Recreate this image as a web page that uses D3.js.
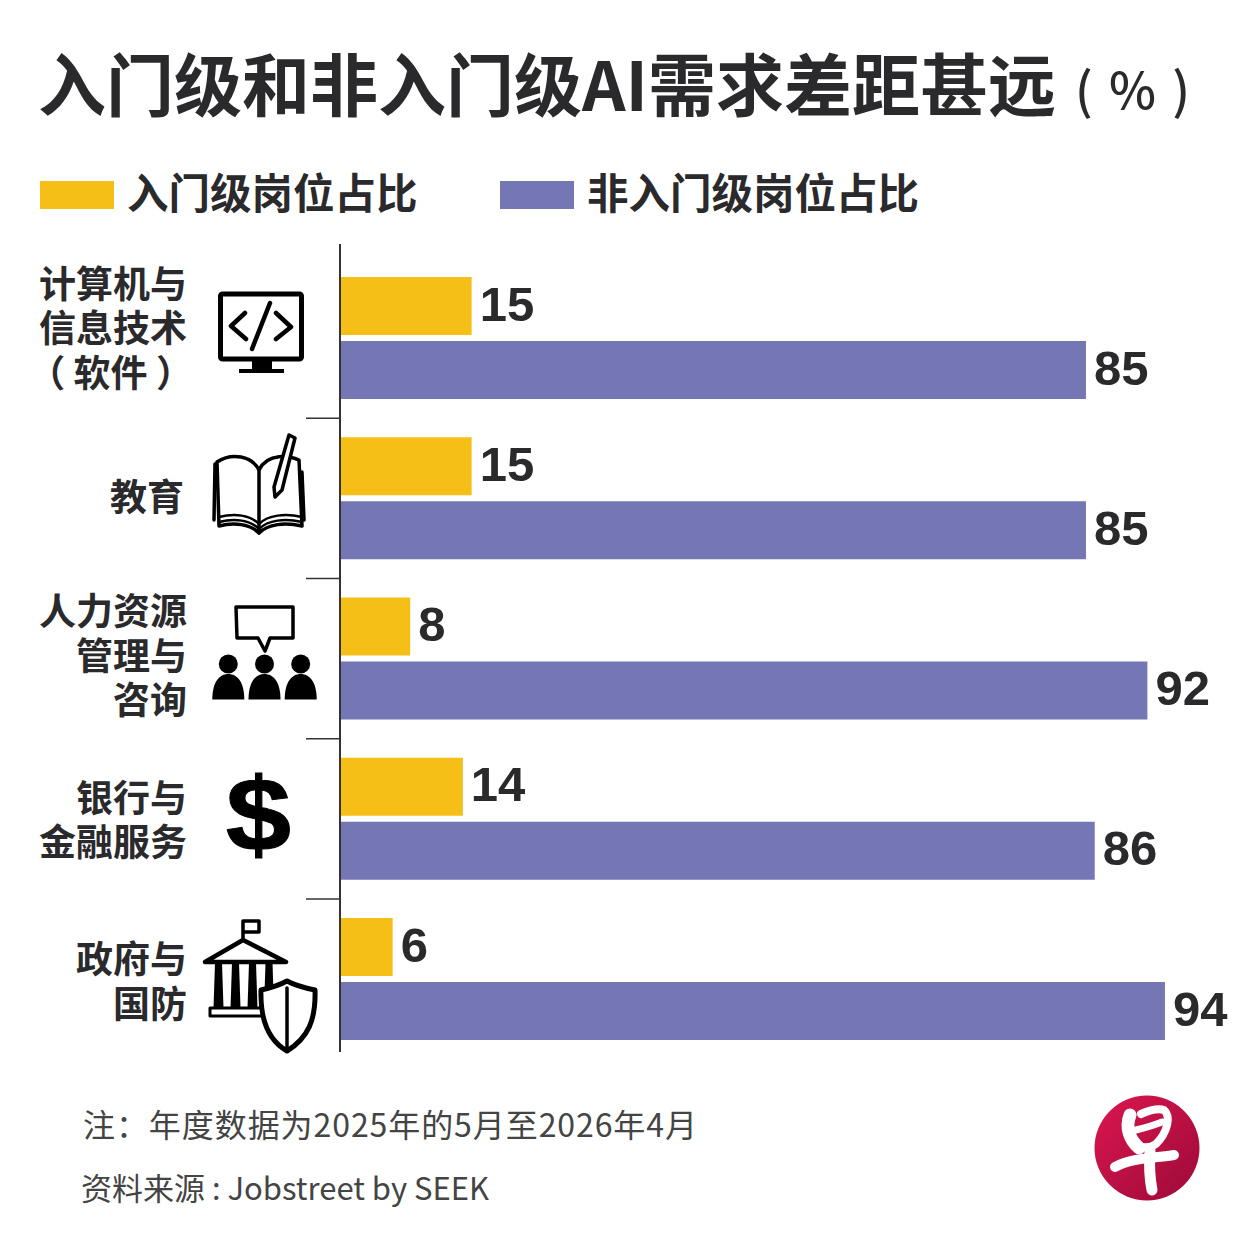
<!DOCTYPE html>
<html lang="zh">
<head>
<meta charset="utf-8">
<script src="https://cdn.jsdelivr.net/npm/d3@7/dist/d3.min.js"></script>
<style>
html,body{margin:0;padding:0;background:#fff}
svg{display:block}
text{font-family:"Noto Sans CJK SC","Noto Sans",sans-serif}
</style>
</head>
<body>
<svg id="c" width="1251" height="1251" viewBox="0 0 1251 1251"></svg>
<script>
const categories = ["计算机与信息技术（软件）","教育","人力资源管理与咨询","银行与金融服务","政府与国防"];
const categoryLines = [["计算机与","信息技术","（ 软件 ）"],["教育"],["人力资源","管理与","咨询"],["银行与","金融服务"],["政府与","国防"]];
const entryLevel = [15,15,8,14,6];
const nonEntryLevel = [85,85,92,86,94];
const seriesNames = ["入门级岗位占比","非入门级岗位占比"];
const titleMain = "入门级和非入门级AI需求差距甚远";
const titleUnit = "( % )";
const noteLine = "注：年度数据为2025年的5月至2026年4月";
const sourceLine = "资料来源 : Jobstreet by SEEK";
const colors = ["#f5bf17","#7577b5"];
const ink = "#2a2a2c";

const svg = d3.select("#c");
const x = d3.scaleLinear().domain([0,100]).range([340,1217.6]);
const y = d3.scaleBand().domain(categories).range([258,1059.25]);
const inner = d3.scaleBand().domain([0,1]).range([19,141]).paddingInner(0.09375);

// title
svg.append("text").attr("x",38).attr("y",111).attr("font-size",68).attr("font-weight",700).attr("fill",ink).text(titleMain);
svg.append("text").attr("x",1075).attr("y",109).attr("font-size",50).attr("font-weight",500).attr("fill",ink).attr("textLength",115).text(titleUnit);

// legend
[[40,127],[500,587]].forEach((p,i)=>{
  svg.append("rect").attr("x",p[0]).attr("y",181).attr("width",74).attr("height",28).attr("fill",colors[i]);
  svg.append("text").attr("x",p[1]).attr("y",209).attr("font-size",41.5).attr("font-weight",700).attr("fill",ink).text(seriesNames[i]);
});

// bars and values
const rows = categories.map((c,i)=>({c,i,vals:[entryLevel[i],nonEntryLevel[i]]}));
const rowShift = [-9,0,-2,2,3.5];
const rowRight = [187,184,187,187,187];
const g = svg.selectAll("g.row").data(rows).join("g").attr("class","row").attr("transform",d=>`translate(0,${y(d.c)})`);
g.each(function(d){
  const s = d3.select(this);
  d.vals.forEach((v,k)=>{
    s.append("rect").attr("x",x(0)).attr("y",inner(k)).attr("width",x(v)-x(0)).attr("height",inner.bandwidth()).attr("fill",colors[k]);
    s.append("text").attr("x",x(v)+8).attr("y",inner(k)+inner.bandwidth()/2+14.5)
      .style("font-family","'Liberation Sans',Arial,sans-serif").attr("font-size",49).attr("font-weight",700).attr("fill",ink).text(v);
  });
  const lines = categoryLines[d.i];
  const lh = 44.5, cy = y.bandwidth()/2 + rowShift[d.i];
  const label = s.append("text").attr("text-anchor","end").attr("font-size",37).attr("font-weight",700).attr("fill",ink);
  lines.forEach((t,j)=>{
    const right = t.startsWith("（") ? rowRight[d.i]+6 : rowRight[d.i];
    label.append("tspan").attr("x",right).attr("y",cy+(j-(lines.length-1)/2)*lh+13).text(t);
  });
});

// axis and separators
svg.append("line").attr("x1",x(0)).attr("x2",x(0)).attr("y1",244).attr("y2",1052).attr("stroke","#333").attr("stroke-width",2);
categories.slice(1).forEach(c=>{
  svg.append("line").attr("x1",306).attr("x2",x(0)).attr("y1",y(c)).attr("y2",y(c)).attr("stroke","#333").attr("stroke-width",1.5);
});

// icons
const icons = svg.append("g").attr("fill","none").attr("stroke","#000").attr("stroke-linejoin","round").attr("stroke-linecap","round");
// monitor
icons.append("rect").attr("x",220.5).attr("y",294).attr("width",81).attr("height",65).attr("rx",2).attr("stroke-width",5);
icons.append("path").attr("fill","#000").attr("stroke","none").attr("d","M252 360H272V369H284V373H239V369H252Z");
icons.append("path").attr("stroke-width",4.5).attr("d","M245 313L231 326L246 339M276 313L291 327L276 339M270 303L252 349");
// book
icons.append("path").attr("stroke-width",3.5).attr("d","M259 470C252 456 232 452 217 462L219 526C234 522 250 524 259 533C268 524 285 522 302 526L299 460C290 456 268 452 259 470Z");
icons.append("path").attr("stroke-width",3.5).attr("d","M259 470L259 533M215 464L214 520M302 472L304 520");
icons.append("path").attr("stroke-width",2.5).attr("d","M219 517C235 513 250 515 259 524C268 515 285 513 302 517M219 522C235 518 250 520 259 529C268 520 285 518 302 522");
icons.append("path").attr("stroke-width",3.5).attr("fill","#fff").attr("d","M289 435L295 438L282 490L275 497L274 487Z");
// people
icons.append("path").attr("stroke-width",3.5).attr("d","M236 607H293L293 638H270L265 651L258 638H237Z");
[228.3,264.5,300.7].forEach(cx=>{
  icons.append("circle").attr("cx",cx).attr("cy",664).attr("r",9.5).attr("fill","#000").attr("stroke","none");
  icons.append("path").attr("fill","#000").attr("stroke","none").attr("d",`M${cx-16} 699.5C${cx-16} 682 ${cx-9} 674 ${cx} 674C${cx+9} 674 ${cx+16} 682 ${cx+16} 699.5Z`);
});
// dollar
svg.append("text").attr("transform","translate(258.5,849.5) scale(1.13,1)").attr("text-anchor","middle").style("font-family","'Liberation Sans',Arial,sans-serif").attr("font-size",104).attr("font-weight",700).attr("fill","#000").attr("stroke","#000").attr("stroke-width",1).text("$");
// government
icons.append("path").attr("stroke-width",3.5).attr("d","M243 940V921H259V932H243");
icons.append("path").attr("stroke-width",4.5).attr("d","M205 962L243 940L286 962Z");
[218.5,235.5,252.5,269].forEach(cx=>{
  icons.append("path").attr("fill","#000").attr("stroke","none").attr("d",`M${cx-3.5} 963H${cx+3.5}L${cx+5} 1008H${cx-5}Z`);
});
icons.append("rect").attr("x",210).attr("y",1008).attr("width",54).attr("height",8).attr("stroke-width",3);
icons.append("path").attr("stroke-width",5).attr("fill","#fff").attr("d","M261 990C270 988 278 986 287 981C296 986 305 988 315 990C316 1020 308 1038 287 1051C268 1040 260 1020 261 990Z");
icons.append("path").attr("stroke-width",3.5).attr("d","M287 988V1051");

// footer
svg.append("text").attr("x",83).attr("y",1137).attr("font-size",32).attr("font-weight",400).attr("fill","#444").attr("textLength",614).text(noteLine);
svg.append("text").attr("x",81).attr("y",1200).attr("font-size",31).attr("font-weight",400).attr("fill","#444").attr("textLength",408).text(sourceLine);

// logo: circular mark with a brushed 早
const defs = svg.append("defs");
const grad = defs.append("linearGradient").attr("id","lg").attr("x1","0").attr("y1","0").attr("x2","1").attr("y2","1");
grad.append("stop").attr("offset","0").attr("stop-color","#dc1650");
grad.append("stop").attr("offset","1").attr("stop-color","#9c0a38");
const logo = svg.append("g");
logo.append("title").text("早");
logo.append("circle").attr("cx",1147).attr("cy",1148).attr("r",52.5).attr("fill","url(#lg)");
const brush = logo.append("g").attr("fill","none").attr("stroke","#fff").attr("stroke-linecap","round").attr("stroke-linejoin","round");
brush.append("path").attr("stroke-width",13).attr("d","M1130 1115C1125 1128 1130 1140 1139 1148");
brush.append("path").attr("stroke-width",8).attr("d","M1141 1114C1150 1110 1158 1108 1164 1110C1171 1116 1168 1132 1156 1144C1150 1148 1144 1148 1139 1146");
brush.append("path").attr("stroke-width",7).attr("d","M1136 1130C1144 1128 1152 1126 1162 1122");
brush.append("path").attr("stroke-width",10).attr("d","M1115 1167C1130 1158 1155 1158 1174 1155");
brush.append("path").attr("stroke-width",11).attr("d","M1150 1150C1149 1165 1150 1180 1152 1190");
</script>
</body>
</html>
